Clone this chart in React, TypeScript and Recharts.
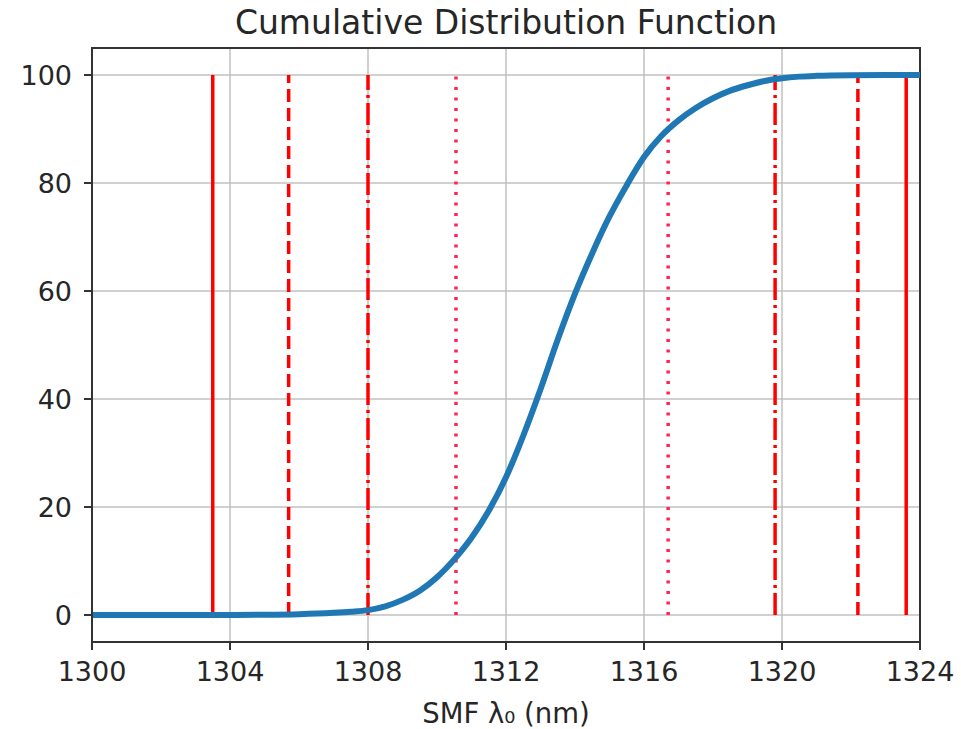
import React from 'react';
import {
  LineChart,
  Line,
  XAxis,
  YAxis,
  CartesianGrid,
  ReferenceLine,
  ReferenceArea,
} from 'recharts';

// ---- data ----
const xTicks = [1300, 1304, 1308, 1312, 1316, 1320, 1324];
const yTicks = [0, 20, 40, 60, 80, 100];

const cdfX = [
  1300, 1302, 1304, 1305, 1306, 1307, 1307.5, 1308, 1308.5, 1309, 1309.5, 1310,
  1310.5, 1311, 1311.5, 1312, 1312.5, 1313, 1313.5, 1314, 1314.5, 1315, 1315.5,
  1316, 1316.5, 1317, 1317.5, 1318, 1318.5, 1319, 1319.5, 1320, 1320.5, 1321,
  1322, 1323, 1324,
];
const cdfY = [
  0, 0, 0.02, 0.05, 0.15, 0.4, 0.6, 0.9, 1.6, 2.8, 4.5, 7,
  10.3, 14.3, 19.3, 25.5, 33.2, 41.8, 51, 59.5, 67, 73.8, 79.6,
  84.8, 88.7, 91.6, 93.9, 95.7, 97.1, 98.1, 98.9, 99.4, 99.7, 99.85,
  99.97, 100, 100,
];

// percentile marker lines (x positions), drawn from 0 to 100
const markerX = [1303.5, 1305.7, 1308.0, 1310.55, 1316.7, 1319.8, 1322.2, 1323.6];
const markerBottom = 0;
const markerTop = 100;

const xLabel = 'SMF λ₀ (nm)';
const title = 'Cumulative Distribution Function';

// ---- styles (kept separate from data) ----
const markerDash = ['', '13 6', '22 5 3 5', '3 7.5', '3 7.5', '22 5 3 5', '13 6', ''];
const markerColor = ['#ff0000', '#ff0000', '#ff0000', '#ff2452', '#ff2452', '#ff0000', '#ff0000', '#ff0000'];

const FONT = 'DejaVu Sans';
const TEXT = '#262626';

const data = cdfX.map((x, i) => ({ x, y: cdfY[i] }));

export default function App() {
  return (
    <div
      style={{
        position: 'absolute',
        left: 0,
        top: 0,
        width: 961,
        height: 729,
        background: '#ffffff',
      }}
    >
      <div
        style={{
          position: 'absolute',
          left: 92,
          width: 828,
          top: 3,
          lineHeight: '40px',
          textAlign: 'center',
          fontFamily: FONT,
          fontSize: 33,
          color: TEXT,
        }}
      >
        {title}
      </div>
      <LineChart
        width={961}
        height={729}
        data={data}
        margin={{ top: 48, right: 41, left: 0, bottom: 0 }}
      >
        <CartesianGrid stroke="#c0c0c0" strokeWidth={1.5} />
        <XAxis
          dataKey="x"
          type="number"
          domain={[1300, 1324]}
          ticks={xTicks}
          allowDataOverflow
          height={87}
          tickSize={8}
          tickMargin={12}
          axisLine={{ stroke: '#333', strokeWidth: 2 }}
          tickLine={{ stroke: '#333', strokeWidth: 2 }}
          tick={{ fill: TEXT, fontSize: 27, fontFamily: FONT }}
          label={{
            value: xLabel,
            position: 'insideBottom',
            offset: 6,
            fill: TEXT,
            fontSize: 27.5,
            fontFamily: FONT,
          }}
        />
        <YAxis
          type="number"
          domain={[-5, 105]}
          ticks={yTicks}
          allowDataOverflow
          width={92}
          tickSize={8}
          tickMargin={12}
          axisLine={{ stroke: '#333', strokeWidth: 2 }}
          tickLine={{ stroke: '#333', strokeWidth: 2 }}
          tick={{ fill: TEXT, fontSize: 27, fontFamily: FONT }}
        />
        {markerX.map((mx, i) => (
          <ReferenceLine
            key={i}
            segment={[
              { x: mx, y: markerBottom },
              { x: mx, y: markerTop },
            ]}
            stroke={markerColor[i]}
            strokeWidth={3.5}
            strokeDasharray={markerDash[i] || undefined}
          />
        ))}
        <Line
          type="monotone"
          dataKey="y"
          stroke="#1f77b4"
          strokeWidth={6}
          dot={false}
          isAnimationActive={false}
        />
        <ReferenceArea
          x1={1300}
          x2={1324}
          y1={-5}
          y2={105}
          fill="none"
          stroke="#333"
          strokeWidth={2}
        />
      </LineChart>
    </div>
  );
}
